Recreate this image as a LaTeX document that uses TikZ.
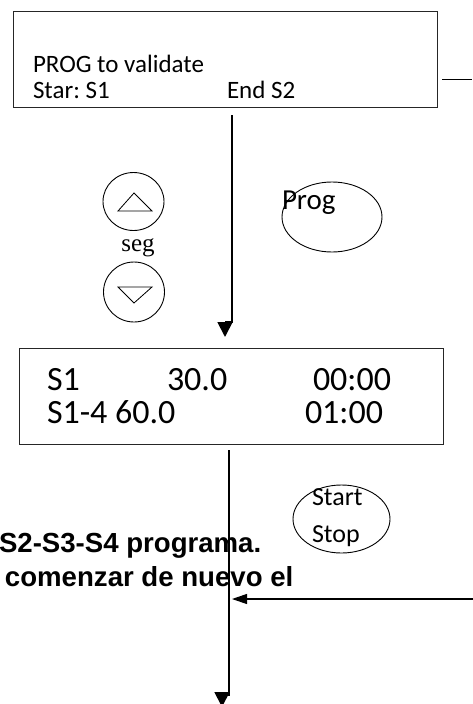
\documentclass[tikz,border=0pt]{standalone}
\usepackage{fontspec}
\setmainfont{Carlito}
\newfontfamily\serifseg{Liberation Serif}
\newfontfamily\boldsans{Liberation Sans}
\usetikzlibrary{arrows.meta,shapes.geometric}
\frenchspacing
\begin{document}
\begin{tikzpicture}[x=1pt,y=-1pt,
  txt/.style={anchor=base west,inner sep=0pt,outer sep=0pt},
  panel/.style={draw=black!85,line width=1.3pt,inner sep=0pt,anchor=north west},
  vline/.style={line width=1.8pt},
  tipdown/.style={line width=1.8pt,-{Triangle[length=15pt,width=15pt]}},
  tipleft/.style={line width=1.1pt,-{Triangle[length=15pt,width=10pt]}},
  btn/.style={draw,line width=0.9pt,inner sep=0pt},
  oval/.style={draw,ellipse,line width=0.9pt,inner sep=0pt}]
\useasboundingbox (0,0) rectangle (472,704);
% top display
\node[panel,minimum width=424pt,minimum height=96pt] (box1) at (13,11) {};
\node[txt,font=\fontsize{25}{25}\selectfont] (t1) at (33,72) {PROG to validate};
\node[txt,font=\fontsize{25}{25}\selectfont] (t2) at (33,98) {Star: S1};
\node[txt,font=\fontsize{25}{25}\selectfont] (t3) at (227,98) {End S2};
\coordinate (r1) at (442,79);
\coordinate (r2) at (472,79);
\draw[line width=0.9pt] (r1) -- (r2);
% first connector
\coordinate (v1top) at (232,115);
\coordinate (v1bot) at (232,322);
\coordinate (a1s) at (225,322);
\coordinate (a1t) at (225,337);
\draw[vline] (v1top) -- (v1bot) -- (a1s);
\draw[tipdown] (a1s) -- (a1t);
% seg buttons
\node[btn,ellipse,minimum width=61pt,minimum height=58pt] (up) at (133.5,201.5) {};
\draw[line width=0.8pt] (118,211) -- (134,193) -- (152,211) -- cycle;
\node[font=\serifseg\fontsize{25}{25}\selectfont,anchor=base,inner sep=0pt] (seg) at (138,251) {seg};
\node[btn,ellipse,minimum width=61pt,minimum height=60pt] (down) at (134,292) {};
\draw[line width=0.8pt] (118,287) -- (152,287) -- (134,303) -- cycle;
% Prog
\node[oval,minimum width=100pt,minimum height=70pt] (prog) at (332,217) {};
\node[txt,font=\fontsize{29}{29}\selectfont] (progt) at (282,209) {Prog};
% second display
\node[panel,minimum width=424pt,minimum height=96pt] (box2) at (19,348) {};
\node[txt,font=\fontsize{34}{34}\selectfont] (s1) at (47,390) {S1};
\node[txt,font=\fontsize{34}{34}\selectfont] (s2) at (167,390) {30.0};
\node[txt,font=\fontsize{34}{34}\selectfont] (s3) at (313,390) {00:00};
\node[txt,font=\fontsize{34}{34}\selectfont] (s4) at (47,423) {S1-4 60.0};
\node[txt,font=\fontsize{34}{34}\selectfont] (s5) at (305,423) {01:00};
% Start/Stop
\node[oval,minimum width=97pt,minimum height=68pt] (ss) at (341.5,519) {};
\node[txt,font=\fontsize{26}{26}\selectfont] (st1) at (312,505) {Start};
\node[txt,font=\fontsize{26}{26}\selectfont] (st2) at (312,542) {Stop};
% bold text
\node[txt,font=\boldsans\bfseries\fontsize{27.6}{27.6}\selectfont] (b1) at (-1,552) {S2-S3-S4 programa.};
\node[txt,font=\boldsans\bfseries\fontsize{27.6}{27.6}\selectfont] (b2) at (5,586) {comenzar de nuevo el};
% second connector
\coordinate (v2top) at (229,450);
\coordinate (v2bot) at (229,695);
\coordinate (a2s) at (222,692);
\coordinate (a2t) at (222,707);
\draw[vline] (v2top) -- (v2bot) -- (a2s |- v2bot);
\draw[tipdown] (a2s) -- (a2t);
% return arrow
\coordinate (h1) at (473,599);
\coordinate (h2) at (232,599);
\draw[tipleft] (h1) -- (h2);
\end{tikzpicture}
\end{document}
